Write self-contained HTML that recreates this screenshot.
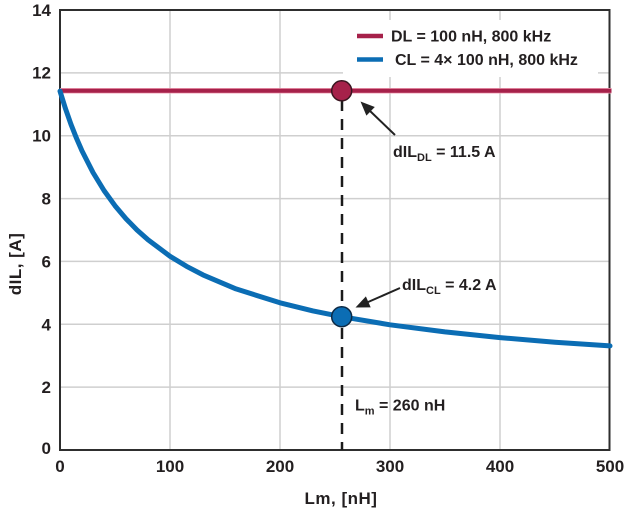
<!DOCTYPE html>
<html>
<head>
<meta charset="utf-8">
<style>
  html,body{margin:0;padding:0;background:#fff;}
  svg{display:block;}
  text{font-family:"Liberation Sans",sans-serif;font-weight:bold;fill:#231f20;}
</style>
</head>
<body>
<svg width="630" height="516" viewBox="0 0 630 516" xmlns="http://www.w3.org/2000/svg">
  <rect width="630" height="516" fill="#fff"/>
  <!-- grid -->
  <g stroke="#cfcfcf" stroke-width="1.5">
    <line x1="170" y1="10" x2="170" y2="450"/>
    <line x1="280" y1="10" x2="280" y2="450"/>
    <line x1="390" y1="10" x2="390" y2="450"/>
    <line x1="500" y1="10" x2="500" y2="450"/>
    <line x1="60" y1="72.9" x2="610" y2="72.9"/>
    <line x1="60" y1="135.7" x2="610" y2="135.7"/>
    <line x1="60" y1="198.6" x2="610" y2="198.6"/>
    <line x1="60" y1="261.4" x2="610" y2="261.4"/>
    <line x1="60" y1="324.3" x2="610" y2="324.3"/>
    <line x1="60" y1="387.1" x2="610" y2="387.1"/>
  </g>
  <!-- legend background -->
  <rect x="343" y="20" width="255" height="57" fill="#fff"/>
  <!-- axes box -->
  <rect x="60" y="10" width="549.5" height="440" fill="none" stroke="#2e2e2e" stroke-width="2"/>

  <!-- dashed vertical -->
  <line x1="342" y1="100" x2="342" y2="450" stroke="#1a1a1a" stroke-width="2.5" stroke-dasharray="11 8"/>

  <!-- DL red line -->
  <line x1="60" y1="90.8" x2="611.5" y2="90.8" stroke="#f0a0b4" stroke-width="5.5"/>
  <line x1="60" y1="90.8" x2="611.5" y2="90.8" stroke="#a6214a" stroke-width="4"/>

  <!-- CL blue curve -->
  <polyline fill="none" stroke="#0b6db4" stroke-width="5" stroke-linejoin="round" stroke-linecap="round"
    points="60,91.1 65.5,108.7 71,124.4 76.5,138.3 82,150.9 93,172.5 104,190.5 115,205.7 126,218.7 137,230.0 148,239.8 170,256.2 186.5,266.3 203,274.9 236,288.9 280,302.8 313,310.9 341.6,316.7 390,324.8 445,331.9 500,337.6 555,342.2 610,345.9"/>

  <!-- markers -->
  <circle cx="341.7" cy="90.8" r="10" fill="#a6214a" stroke="#3a1520" stroke-width="1.5"/>
  <circle cx="341.7" cy="316.7" r="10" fill="#0b6db4" stroke="#0d2a45" stroke-width="1.5"/>

  <!-- arrows -->
  <line x1="395" y1="135" x2="369" y2="110" stroke="#222" stroke-width="2"/>
  <polygon points="360.5,101.5 374.8,107.0 366.4,115.6" fill="#222"/>
  <line x1="400" y1="288" x2="367" y2="302.5" stroke="#222" stroke-width="2"/>
  <polygon points="355.5,307.5 370.7,307.4 365.9,296.4" fill="#222"/>

  <!-- legend -->
  <line x1="357" y1="36" x2="383" y2="36" stroke="#a6214a" stroke-width="4.5"/>
  <line x1="357" y1="59.5" x2="383" y2="59.5" stroke="#0b6db4" stroke-width="4.5"/>
  <text x="391" y="41.7" font-size="16">DL = 100 nH, 800 kHz</text>
  <text x="395" y="65" font-size="16">CL = 4× 100 nH, 800 kHz</text>

  <!-- annotations -->
  <text x="393" y="157" font-size="16">dIL<tspan font-size="11" dy="4">DL</tspan><tspan dy="-4"> = 11.5 A</tspan></text>
  <text x="402" y="290" font-size="16">dIL<tspan font-size="11" dy="4">CL</tspan><tspan dy="-4"> = 4.2 A</tspan></text>
  <text x="355" y="410.7" font-size="16">L<tspan font-size="11" dy="4">m</tspan><tspan dy="-4"> = 260 nH</tspan></text>

  <!-- y tick labels -->
  <g font-size="17" text-anchor="end">
    <text x="51" y="16">14</text>
    <text x="51" y="78.5">12</text>
    <text x="51" y="141.5">10</text>
    <text x="51" y="204.5">8</text>
    <text x="51" y="267.5">6</text>
    <text x="51" y="330.5">4</text>
    <text x="51" y="393">2</text>
    <text x="51" y="454">0</text>
  </g>
  <!-- x tick labels -->
  <g font-size="17" text-anchor="middle">
    <text x="60" y="472">0</text>
    <text x="170" y="472">100</text>
    <text x="280" y="472">200</text>
    <text x="390" y="472">300</text>
    <text x="500" y="472">400</text>
    <text x="610" y="472">500</text>
  </g>
  <!-- axis titles -->
  <text x="341" y="504" font-size="17" text-anchor="middle" letter-spacing="0.5">Lm, [nH]</text>
  <text transform="translate(21,264) rotate(-90)" font-size="17" text-anchor="middle" letter-spacing="0.5">dIL, [A]</text>
</svg>
</body>
</html>
